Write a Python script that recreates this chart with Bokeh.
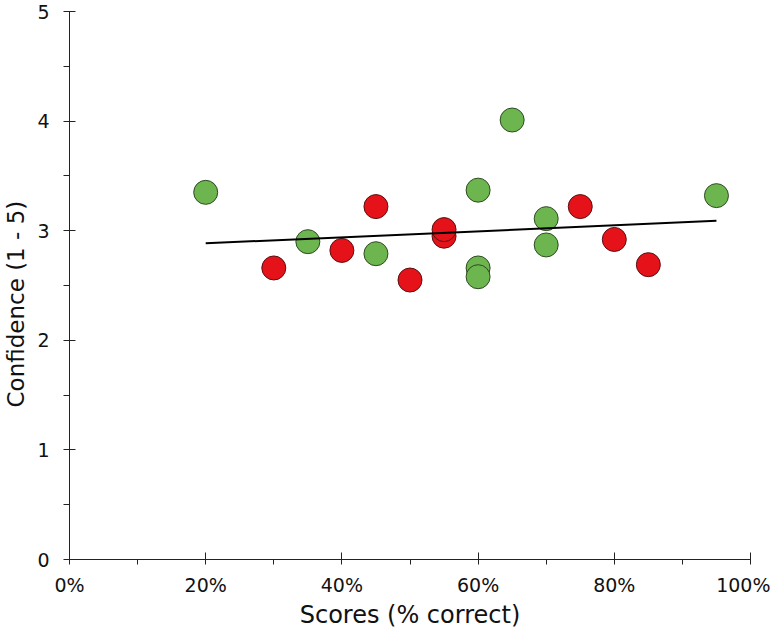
from bokeh.plotting import figure
from bokeh.models import Range1d, NumeralTickFormatter, FixedTicker, Title
from bokeh.embed import file_html
from bokeh.resources import INLINE

# Scores (fraction correct) and confidence (1-5)
green_x = [0.20, 0.35, 0.45, 0.60, 0.60, 0.60, 0.65, 0.70, 0.70, 0.95]
green_y = [3.35, 2.90, 2.79, 3.37, 2.66, 2.58, 4.01, 3.11, 2.87, 3.32]
red_x = [0.30, 0.40, 0.45, 0.50, 0.55, 0.55, 0.75, 0.80, 0.85]
red_y = [2.66, 2.82, 3.22, 2.55, 2.95, 3.01, 3.22, 2.92, 2.69]
trend_x = [0.20, 0.95]
trend_y = [2.885, 3.09]

x_ticks = [0, 0.2, 0.4, 0.6, 0.8, 1.0]
x_minor = [0.1, 0.3, 0.5, 0.7, 0.9]
y_ticks = [0, 1, 2, 3, 4, 5]
y_minor = [0.5, 1.5, 2.5, 3.5, 4.5]
x_title = "Scores (% correct)"
y_title = "Confidence (1 - 5)"

FONT = "DejaVu Sans"

p = figure(frame_width=681, frame_height=548, output_backend="svg", toolbar_location=None,
           x_range=Range1d(0, 1), y_range=Range1d(0, 5),
           min_border_left=69, min_border_right=20, min_border_top=11, min_border_bottom=40)
p.outline_line_color = None
p.xgrid.visible = False
p.ygrid.visible = False

p.scatter(green_x, green_y, size=24, fill_color="#6cb54f", line_color="#2f4a22", line_width=1)
p.scatter(red_x, red_y, size=24, fill_color="#e5121a", line_color="#5a1010", line_width=1)
p.line(trend_x, trend_y, line_color="black", line_width=2)

xa = p.xaxis[0]
xa.ticker = FixedTicker(ticks=x_ticks, minor_ticks=x_minor)
xa.formatter = NumeralTickFormatter(format="0%")
xa.axis_label = x_title
xa.major_tick_in = 7
xa.major_tick_out = 5
xa.minor_tick_in = 0
xa.minor_tick_out = 5
xa.major_label_standoff = 9
xa.axis_label_standoff = 2

ya = p.yaxis[0]
ya.ticker = FixedTicker(ticks=y_ticks, minor_ticks=y_minor)
ya.major_tick_in = 6
ya.major_tick_out = 6
ya.minor_tick_in = 0
ya.minor_tick_out = 6
ya.major_label_standoff = 14

for ax in (xa, ya):
    ax.axis_line_color = "#222222"
    ax.major_tick_line_color = "#222222"
    ax.minor_tick_line_color = "#222222"
    ax.major_label_text_font = FONT
    ax.major_label_text_font_size = "19px"
    ax.major_label_text_color = "#111111"
    ax.axis_label_text_font = FONT
    ax.axis_label_text_font_size = "24px"
    ax.axis_label_text_font_style = "normal"
    ax.axis_label_text_color = "#111111"

# spacer between the y tick labels and the side title
ya.axis_label = " "
ya.axis_label_text_font_size = "1px"
ya.axis_label_standoff = 2

# y title as a side title so it can sit off-centre like the reference
p.add_layout(Title(text=y_title, align="left", offset=152, standoff=0, text_font=FONT,
                   text_font_size="23px", text_font_style="normal", text_color="#111111"), "left")

open("out.html", "w").write(file_html(p, INLINE))
